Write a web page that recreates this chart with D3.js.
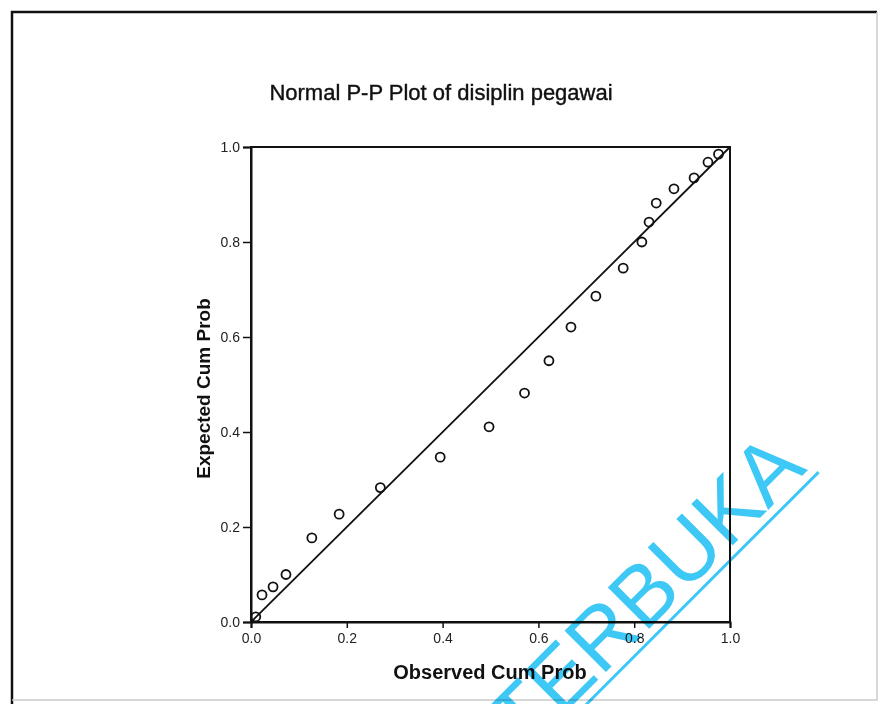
<!DOCTYPE html>
<html lang="en">
<head>
<meta charset="UTF-8">
<title>Normal P-P Plot of disiplin pegawai</title>
<script src="https://d3js.org/d3.v7.min.js"></script>
<style>
  body { margin: 0; background: #fff; }
  svg { display: block; font-family: "Liberation Sans", Arial, sans-serif; }
  .tick text { fill: #222; }
</style>
</head>
<body>
<svg id="chart" width="881" height="704"></svg>
<script>
// observed vs expected cumulative probabilities
const observed = [0.010, 0.023, 0.046, 0.073, 0.127, 0.184, 0.270, 0.395, 0.497, 0.571, 0.622, 0.668, 0.720, 0.777, 0.816, 0.831, 0.846, 0.883, 0.925, 0.954, 0.976];
const expected = [0.011, 0.057, 0.074, 0.100, 0.177, 0.227, 0.283, 0.347, 0.411, 0.482, 0.550, 0.621, 0.686, 0.745, 0.800, 0.842, 0.882, 0.912, 0.935, 0.968, 0.985];
const tickValues = [0, 0.2, 0.4, 0.6, 0.8, 1.0];
const title = "Normal P-P Plot of disiplin pegawai";
const xTitle = "Observed Cum Prob";
const yTitle = "Expected Cum Prob";
const watermark = "TERBUKA";

var svg = d3.select("#chart");
var W = +svg.attr("width"), H = +svg.attr("height");

var x = d3.scaleLinear().domain([0, 1]).range([251, 730]);
var y = d3.scaleLinear().domain([0, 1]).range([622, 147]);

// scanned page frame
svg.append("path")
  .attr("d", `M12,${H}V12H877`)
  .attr("fill", "none").attr("stroke", "#111").attr("stroke-width", 2.5);
svg.append("path")
  .attr("d", `M877,12V700H12`)
  .attr("fill", "none").attr("stroke", "#ccc").attr("stroke-width", 1.5);

svg.append("text")
  .attr("x", 441).attr("y", 100)
  .attr("text-anchor", "middle")
  .style("font-size", "22px")
  .attr("fill", "#111").attr("stroke", "#111").attr("stroke-width", 0.4)
  .text(title);

// box around the plot
svg.append("rect")
  .attr("x", x(0)).attr("y", y(1))
  .attr("width", x(1) - x(0)).attr("height", y(0) - y(1))
  .attr("fill", "none").attr("stroke", "#111").attr("stroke-width", 2);

var xAxis = svg.append("g")
  .attr("transform", `translate(0,${y(0)})`)
  .call(d3.axisBottom(x).tickValues(tickValues).tickFormat(d3.format(".1f")).tickSize(6).tickPadding(5));
var yAxis = svg.append("g")
  .attr("transform", `translate(${x(0)},0)`)
  .call(d3.axisLeft(y).tickValues(tickValues).tickFormat(d3.format(".1f")).tickSize(8).tickPadding(3));

[xAxis, yAxis].forEach(a => {
  a.select(".domain").attr("stroke", "#111").attr("stroke-width", 2);
  a.selectAll(".tick line").attr("stroke", "#111").attr("stroke-width", 1.5);
  a.selectAll(".tick text").style("font-size", "14px").style("font-family", "Liberation Sans, Arial, sans-serif");
});

// reference diagonal
svg.append("line")
  .attr("x1", x(0)).attr("y1", y(0))
  .attr("x2", x(1)).attr("y2", y(1))
  .attr("stroke", "#111").attr("stroke-width", 1.8);

svg.append("g")
  .selectAll("circle")
  .data(observed.map((o, i) => [o, expected[i]]))
  .join("circle")
  .attr("cx", d => x(d[0]))
  .attr("cy", d => y(d[1]))
  .attr("r", 4.5)
  .attr("fill", "none")
  .attr("stroke", "#111")
  .attr("stroke-width", 1.8);

svg.append("text")
  .attr("x", 490).attr("y", 679)
  .attr("text-anchor", "middle")
  .style("font-size", "20px").style("font-weight", "bold")
  .attr("fill", "#111")
  .text(xTitle);

svg.append("text")
  .attr("transform", `translate(210,${(y(0) + y(1)) / 2 + 4}) rotate(-90)`)
  .attr("text-anchor", "middle")
  .style("font-size", "19px").style("font-weight", "bold")
  .attr("fill", "#111")
  .text(yTitle);

// library stamp across the lower right
var wm = svg.append("g")
  .attr("transform", "translate(808,470) rotate(-45)")
  .style("mix-blend-mode", "multiply");
wm.append("text")
  .attr("text-anchor", "end")
  .style("font-size", "85px")
  .attr("fill", "#3ec8f6")
  .text(watermark);
wm.append("line")
  .attr("x1", -420).attr("y1", 9)
  .attr("x2", 6).attr("y2", 9)
  .attr("stroke", "#3ec8f6").attr("stroke-width", 3);
</script>
</body>
</html>
